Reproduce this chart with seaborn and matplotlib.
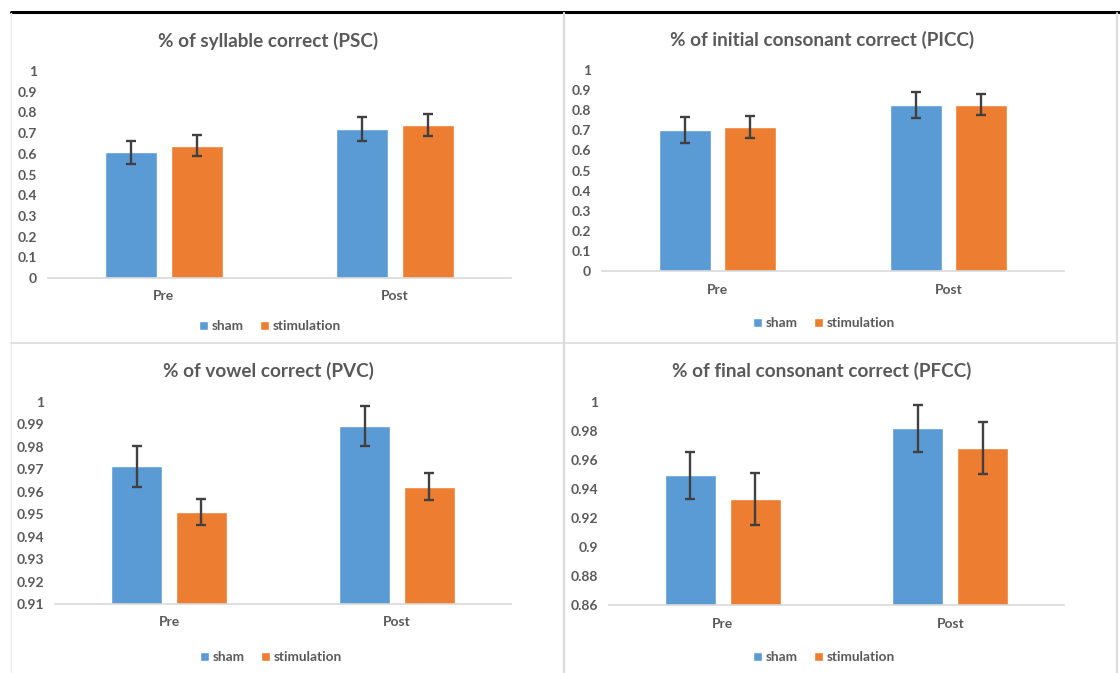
import pandas as pd
import matplotlib.pyplot as plt
import seaborn as sns
from matplotlib.lines import Line2D
from matplotlib.ticker import MultipleLocator, FormatStrFormatter

# values
times = ["Pre", "Post"]
groups = ["sham", "stimulation"]

psc_sham = [0.607, 0.720]
psc_stim = [0.639, 0.738]
psc_sham_err = [0.056, 0.056]
psc_stim_err = [0.052, 0.053]

picc_sham = [0.700, 0.824]
picc_stim = [0.718, 0.828]
picc_sham_err = [0.064, 0.065]
picc_stim_err = [0.055, 0.053]

pvc_sham = [0.9714, 0.9895]
pvc_stim = [0.9509, 0.9623]
pvc_sham_err = [0.0091, 0.0089]
pvc_stim_err = [0.0058, 0.0061]

pfcc_sham = [0.9495, 0.9819]
pfcc_stim = [0.9332, 0.9681]
pfcc_sham_err = [0.0162, 0.0163]
pfcc_stim_err = [0.0177, 0.0179]

panels = [
    ("% of syllable correct (PSC)", psc_sham, psc_stim, psc_sham_err, psc_stim_err, 0, 1, 0.1),
    ("% of initial consonant correct (PICC)", picc_sham, picc_stim, picc_sham_err, picc_stim_err, 0, 1, 0.1),
    ("% of vowel correct (PVC)", pvc_sham, pvc_stim, pvc_sham_err, pvc_stim_err, 0.91, 1, 0.01),
    ("% of final consonant correct (PFCC)", pfcc_sham, pfcc_stim, pfcc_sham_err, pfcc_stim_err, 0.86, 1, 0.02),
]

W, H = 1120, 673
BLUE = "#5B9BD5"
ORANGE = "#ED7D31"
TEXT = "#595959"

sns.set_style("white")
plt.rcParams["font.family"] = ["Lato", "DejaVu Sans"]

fig = plt.figure(figsize=(W / 100, H / 100), dpi=100)

# plot-area boxes in pixels: x0, x1, y_top, y_bottom, title x/y, legend x/y
boxes = [
    (48, 511, 71, 278, 268, 41, 270, 326),
    (602, 1064, 70, 271, 822, 40, 824, 323),
    (55, 511, 402, 604, 268, 371, 271, 657),
    (609, 1064, 402, 605, 822, 371, 824, 657),
]

for (title, sham, stim, sham_err, stim_err, ymin, ymax, step), box in zip(panels, boxes):
    x0, x1, yt, yb, tx, ty, lx, ly = box
    ax = fig.add_axes([x0 / W, 1 - yb / H, (x1 - x0) / W, (yb - yt) / H])

    df = pd.DataFrame({
        "time": times * 2,
        "group": [groups[0]] * 2 + [groups[1]] * 2,
        "value": sham + stim,
    })
    sns.barplot(data=df, x="time", y="value", hue="group", order=times,
                hue_order=groups, palette=[BLUE, ORANGE], width=0.57, gap=0.21,
                errorbar=None, saturation=1, ax=ax)

    errs = [sham_err, stim_err]
    for cont, err in zip(ax.containers, errs):
        xs = [p.get_x() + p.get_width() / 2 for p in cont]
        ys = [p.get_height() for p in cont]
        ax.errorbar(xs, ys, yerr=err, fmt="none", ecolor="#404040",
                    elinewidth=1.7, capsize=3.5, capthick=1.7, zorder=5)

    ax.set_xlim(-0.5, len(times) - 0.5)
    ax.set_ylim(ymin, ymax)
    ax.yaxis.set_major_locator(MultipleLocator(step))
    ax.yaxis.set_major_formatter(FormatStrFormatter("%g"))
    ax.set_xlabel("")
    ax.set_ylabel("")
    for s in ["top", "right", "left"]:
        ax.spines[s].set_visible(False)
    ax.spines["bottom"].set_color("#d9d9d9")
    ax.spines["bottom"].set_linewidth(1.2)
    ax.tick_params(axis="x", length=0, pad=9, labelsize=10, labelcolor=TEXT)
    ax.tick_params(axis="y", length=0, pad=8, labelsize=10, labelcolor=TEXT)
    for lab in ax.get_xticklabels() + ax.get_yticklabels():
        lab.set_fontweight("bold")

    fig.text(tx / W, 1 - ty / H, title, ha="center", va="center",
             fontsize=13.6, fontweight="bold", color=TEXT)

    ax.legend(loc="center", bbox_to_anchor=(lx / W, 1 - ly / H),
              bbox_transform=fig.transFigure, ncol=2, frameon=False,
              handlelength=0.65, handleheight=0.65, handletextpad=0.3,
              columnspacing=1.2, prop={"size": 9.8, "weight": "bold"},
              labelcolor=TEXT)

# frame lines between the panels
def fline(xa, ya, xb, yb, color, lw):
    fig.add_artist(Line2D([xa / W, xb / W], [1 - ya / H, 1 - yb / H],
                          color=color, linewidth=lw, transform=fig.transFigure))

fline(11, 12, W, 12, "black", 2.2)
fline(11, 13, 11, H, "#ececec", 1.0)
fline(564, 13, 564, H, "#dcdcdc", 1.6)
fline(11, 343, 1117, 343, "#dcdcdc", 1.2)
fline(1117, 13, 1117, H, "#dcdcdc", 1.4)

plt.savefig("out.png", dpi=100)
